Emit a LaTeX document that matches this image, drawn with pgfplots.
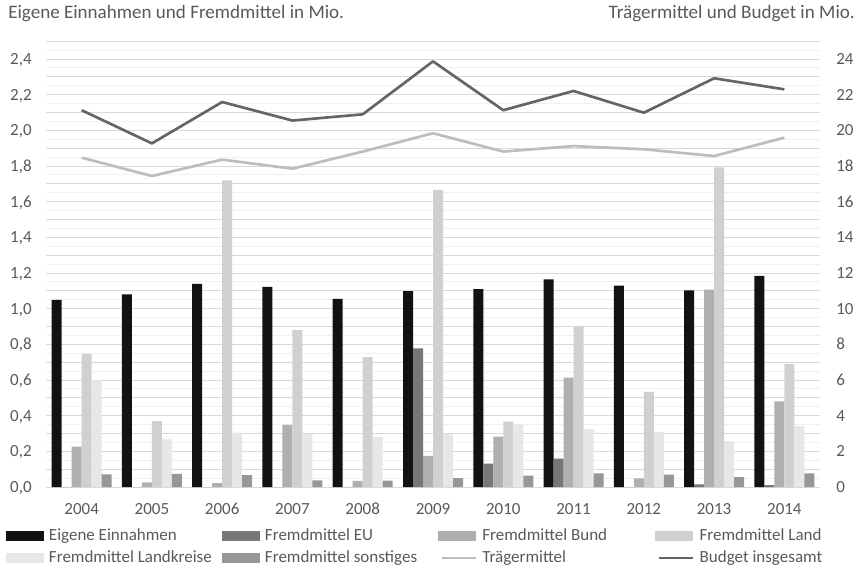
\documentclass[border=0pt]{standalone}
\usepackage{fontspec}
\setmainfont{Carlito}
\usepackage{pgfplots}
\usepackage{pgfplotstable}
\pgfplotsset{compat=1.18}
\definecolor{txt}{HTML}{595959}
\definecolor{gmaj}{HTML}{D9D9D9}
\definecolor{gmin}{HTML}{F0F0F0}
\definecolor{cEig}{HTML}{121212}
\definecolor{cEU}{HTML}{777777}
\definecolor{cBund}{HTML}{AFAFAF}
\definecolor{cLand}{HTML}{D0D0D0}
\definecolor{cLk}{HTML}{E7E7E7}
\definecolor{cSon}{HTML}{979797}
\definecolor{cTr}{HTML}{BDBDBD}
\definecolor{cBud}{HTML}{656565}
\newcommand{\fnt}{\fontsize{12.75}{15}\selectfont}
\newcommand{\tfnt}{\fontsize{14.3}{17}\selectfont}
\newcommand{\Lg}[1]{\makebox[126pt][l]{#1}}
\pgfplotsset{
  barleg/.style={legend image code/.code={\fill[##1] (0pt,-3.6pt) rectangle (28.5pt,3.6pt);}},
  lineleg/.style={legend image code/.code={\draw[##1] (3pt,0pt) -- (28.5pt,0pt);}},
  every tick label/.append style={font=\fnt, text=txt},
  /pgf/number format/assume math mode=true,
}
\pgfplotstableread{
x Eig EU Bund Land Lk Son Tr Bud
0 1.050 0 0.226 0.746 0.600 0.071 18.47 21.13
1 1.080 0 0.026 0.370 0.267 0.073 17.44 19.27
2 1.139 0 0.022 1.720 0.305 0.066 18.36 21.59
3 1.122 0 0.348 0.880 0.297 0.037 17.85 20.55
4 1.055 0 0.034 0.729 0.280 0.036 18.81 20.90
5 1.098 0.778 0.174 1.666 0.296 0.050 19.84 23.87
6 1.109 0.131 0.282 0.366 0.350 0.064 18.81 21.13
7 1.165 0.159 0.613 0.897 0.325 0.077 19.12 22.21
8 1.130 0 0.049 0.533 0.308 0.069 18.94 20.99
9 1.102 0.015 1.107 1.792 0.258 0.056 18.56 22.92
10 1.184 0.010 0.480 0.690 0.342 0.077 19.59 22.30
}\data
\begin{document}
\begin{tikzpicture}
\path[use as bounding box] (-34.875pt,-58.5pt) rectangle (612.375pt,365.25pt);
\begin{axis}[
  scale only axis, width=579.75pt, height=334.35pt,
  at={(0pt,0pt)}, anchor=south west,
  xmin=-0.5, xmax=10.5, ymin=0, ymax=2.5,
  ybar=0pt, bar width=7.5pt,
  axis x line*=bottom, axis y line*=left,
  y axis line style={draw=none},
  x axis line style={draw=gmaj, line width=0.75pt},
  major tick length=0pt, minor tick length=0pt,
  xtick={0,...,10},
  xticklabels={2004,2005,2006,2007,2008,2009,2010,2011,2012,2013,2014},
  xticklabel style={inner sep=0pt, anchor=north, yshift=-12pt},
  ytick={0,0.2,0.4,0.6,0.8,1.0,1.2,1.4,1.6,1.8,2.0,2.2,2.4},
  yticklabel style={/pgf/number format/.cd, fixed, fixed zerofill, precision=1, use comma, /tikz/.cd, inner sep=0pt, anchor=east, xshift=-10.9pt, text height=8.1pt, text depth=0pt},
  ymajorgrids, major grid style={draw=gmaj, line width=0.75pt},
  extra y ticks={0.1,0.3,0.5,0.7,0.9,1.1,1.3,1.5,1.7,1.9,2.1,2.3,2.5},
  extra y tick labels={},
  extra y tick style={grid=major, major grid style={draw=gmaj, line width=0.75pt}},
  minor ytick={0.05,0.15,0.25,0.35,0.45,0.55,0.65,0.75,0.85,0.95,1.05,1.15,1.25,1.35,1.45,1.55,1.65,1.75,1.85,1.95,2.05,2.15,2.25,2.35,2.45},
  yminorgrids, minor grid style={draw=gmin, line width=0.75pt},
  legend columns=4,
  legend cell align=left,
  legend style={at={(-0.0524,-0.092)}, anchor=north west, draw=none, fill=none,
    inner sep=0pt, outer sep=0pt, column sep=3.75pt, row sep=4.5pt,
    /tikz/every even column/.style={column sep=3.75pt},
    /tikz/every odd column/.style={column sep=3.75pt},
    font=\fnt, text=txt,
    nodes={inner sep=0pt, text height=9pt, text depth=3pt}},
]
\addplot[fill=cEig, draw=none, barleg] table[x=x,y=Eig]{\data};
\addlegendentry{\Lg{Eigene Einnahmen}}
\addplot[fill=cEU, draw=none, barleg] table[x=x,y=EU]{\data};
\addlegendentry{\Lg{Fremdmittel EU}}
\addplot[fill=cBund, draw=none, barleg] table[x=x,y=Bund]{\data};
\addlegendentry{\Lg{Fremdmittel Bund}}
\addplot[fill=cLand, draw=none, barleg] table[x=x,y=Land]{\data};
\addlegendentry{\Lg{Fremdmittel Land}}
\addplot[fill=cLk, draw=none, barleg] table[x=x,y=Lk]{\data};
\addlegendentry{\Lg{Fremdmittel Landkreise}}
\addplot[fill=cSon, draw=none, barleg] table[x=x,y=Son]{\data};
\addlegendentry{\Lg{Fremdmittel sonstiges}}
\addlegendimage{lineleg, draw=cTr, line width=2pt}
\addlegendentry{\Lg{Trägermittel}}
\addlegendimage{lineleg, draw=cBud, line width=2pt}
\addlegendentry{\Lg{Budget insgesamt}}
\end{axis}
\begin{axis}[
  scale only axis, width=579.75pt, height=334.35pt,
  at={(0pt,0pt)}, anchor=south west,
  xmin=-0.5, xmax=10.5, ymin=0, ymax=25,
  axis x line=none, axis y line*=right,
  y axis line style={draw=none},
  major tick length=0pt,
  ytick={0,2,4,6,8,10,12,14,16,18,20,22,24},
  yticklabel style={inner sep=0pt, anchor=west, xshift=12.4pt, text height=8.1pt, text depth=0pt},
]
\addplot[draw=cTr, line width=2pt, line join=round, mark=none] table[x=x,y=Tr]{\data};
\addplot[draw=cBud, line width=2pt, line join=round, mark=none] table[x=x,y=Bud]{\data};
\end{axis}
\node[anchor=base west, font=\tfnt, text=txt, inner sep=0pt] at (-28.875pt,351.2pt) {Eigene Einnahmen und Fremdmittel in Mio.};
\node[anchor=base east, font=\tfnt, text=txt, inner sep=0pt] at (606.4pt,351.2pt) {Trägermittel und Budget in Mio.};
\end{tikzpicture}
\end{document}
